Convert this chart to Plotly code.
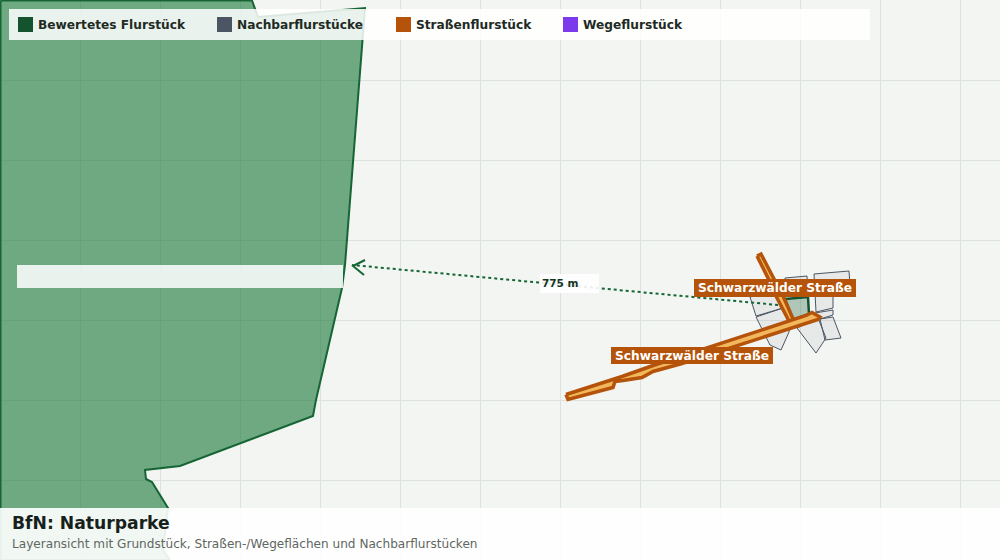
import plotly.graph_objects as go

# polygon vertices (x, y in map units, y pointing down)
park_x = [0.5, 252, 258, 365, 345, 342, 316, 313, 180, 145, 146, 152, 168, 163, 170, 0.5, 0.5]
park_y = [0.5, 0.5, 17, 8, 265, 288, 400, 416, 466, 470, 479, 482, 508, 550, 560, 560, 0.5]

parcel_x = [785, 808, 809, 793, 785]
parcel_y = [299, 297, 314, 320, 299]

neighbours = [
    ([750, 777, 783, 756, 750], [297, 290, 308, 316, 297]),
    ([756, 783, 790, 789, 781, 770, 756], [317, 308, 324, 332, 350, 345, 317]),
    ([797, 818, 826, 816, 797], [328, 318, 338, 353, 328]),
    ([820, 833, 841, 825, 820], [319, 317, 338, 340, 319]),
    ([785, 807, 808, 785, 785], [278, 276, 297, 299, 278]),
    ([814, 849, 850, 833, 833, 816, 814], [274, 271, 285, 294, 308, 312, 274]),
    ([815, 833, 833, 820, 815], [313, 310, 315, 319, 313]),
]

road_a_x = [757, 761, 773, 783, 794, 790, 777, 769, 757]
road_a_y = [256, 254, 277, 296, 321, 323, 298, 280, 256]
road_b_x = [566, 613, 622, 653, 690, 806, 812, 820, 818, 682, 653, 642, 623, 615, 613, 568, 566]
road_b_y = [394.5, 379.5, 376.5, 365.5, 353.5, 315.5, 312.5, 317, 319.5, 363.5, 371.5, 377.5, 380.5, 381.5, 387.5, 399.5, 394.5]

distance_x = [778, 352]
distance_y = [305, 265]
arrow_x = [365, 353, 364]
arrow_y = [260, 266, 275]

legend_names = ["Bewertetes Flurstück", "Nachbarflurstücke", "Straßenflurstück", "Wegeflurstück"]
legend_colors = ["#14532d", "#4b5563", "#b45309", "#7c3aed"]
legend_x = [18, 217, 396, 563]

road_labels = ["Schwarzwälder Straße", "Schwarzwälder Straße"]
road_label_x = [775, 692]
road_label_y = [288, 356]

FONT = "DejaVu Sans"
GREEN = "#14532d"
ORANGE = "#b45309"

fig = go.Figure()

fig.add_trace(go.Scatter(x=park_x, y=park_y, mode="lines", fill="toself",
                         fillcolor="rgba(21,118,55,0.6)", line=dict(color="#166534", width=2)))
for nx, ny in neighbours:
    fig.add_trace(go.Scatter(x=nx, y=ny, mode="lines", fill="toself",
                             fillcolor="rgba(75,85,99,0.07)", line=dict(color="#4b5563", width=1)))
fig.add_trace(go.Scatter(x=parcel_x, y=parcel_y, mode="lines", fill="toself",
                         fillcolor="rgba(21,90,50,0.3)", line=dict(color=GREEN, width=2.5)))
for rx, ry in [(road_a_x, road_a_y), (road_b_x, road_b_y)]:
    fig.add_trace(go.Scatter(x=rx, y=ry, mode="lines", fill="toself",
                             fillcolor="#f2b75c", line=dict(color=ORANGE, width=3.5)))
fig.add_trace(go.Scatter(x=distance_x, y=distance_y, mode="lines",
                         line=dict(color="#166534", width=2, dash="3px,3px")))
fig.add_trace(go.Scatter(x=arrow_x, y=arrow_y, mode="lines", line=dict(color="#166534", width=2)))

shapes = [
    dict(type="rect", x0=9, x1=870, y0=9, y1=40, fillcolor="rgba(255,255,255,0.85)", line_width=0),
    dict(type="rect", x0=17, x1=343, y0=265, y1=288, fillcolor="rgba(255,255,255,0.85)", line_width=0),
    dict(type="rect", x0=540, x1=599, y0=274, y1=293, fillcolor="rgba(255,255,255,0.9)", line_width=0),
    dict(type="rect", x0=694, x1=856, y0=279, y1=297, fillcolor=ORANGE, line_width=0),
    dict(type="rect", x0=611, x1=773, y0=347, y1=364, fillcolor=ORANGE, line_width=0),
    dict(type="rect", x0=0, x1=1000, y0=508, y1=560, fillcolor="rgba(255,255,255,0.9)", line_width=0),
]
annotations = []
for name, color, lx in zip(legend_names, legend_colors, legend_x):
    shapes.append(dict(type="rect", x0=lx, x1=lx + 15, y0=17, y1=32, fillcolor=color, line_width=0))
    annotations.append(dict(x=lx + 18, y=25, text=f"<b>{name}</b>", xanchor="left",
                            font=dict(size=12.2, color="#1f2a24")))
for label, lx, ly in zip(road_labels, road_label_x, road_label_y):
    annotations.append(dict(x=lx, y=ly, text=f"<b>{label}</b>", font=dict(size=12.2, color="white")))
annotations.append(dict(x=560, y=283, text="<b>775 m</b>", font=dict(size=10.5, color="#14351f")))
annotations.append(dict(x=10, y=523, text="<b>BfN: Naturparke</b>", xanchor="left",
                        font=dict(size=17.2, color="#17211b")))
annotations.append(dict(x=10, y=544, text="Layeransicht mit Grundstück, Straßen-/Wegeflächen und Nachbarflurstücken",
                        xanchor="left", font=dict(size=12.1, color="#5f6762")))

fig.update_layout(
    width=1000, height=560, margin=dict(l=0, r=0, t=0, b=0),
    showlegend=False, paper_bgcolor="white", plot_bgcolor="#f3f5f2",
    font=dict(family=FONT), shapes=shapes,
    annotations=[dict(a, showarrow=False, yanchor="middle") for a in annotations],
)
for s in fig.layout.shapes:
    s.layer = "above"
fig.update_xaxes(range=[0, 1000], tick0=0, dtick=80, showgrid=True, gridcolor="#dce2de", gridwidth=1,
                 zeroline=False, showticklabels=False, ticks="")
fig.update_yaxes(range=[560, 0], tick0=0, dtick=80, showgrid=True, gridcolor="#dce2de", gridwidth=1,
                 zeroline=False, showticklabels=False, ticks="")

fig.write_html("out.html", config=dict(displayModeBar=False),
               post_script="document.body.style.margin='0';document.documentElement.style.overflow='hidden';")
